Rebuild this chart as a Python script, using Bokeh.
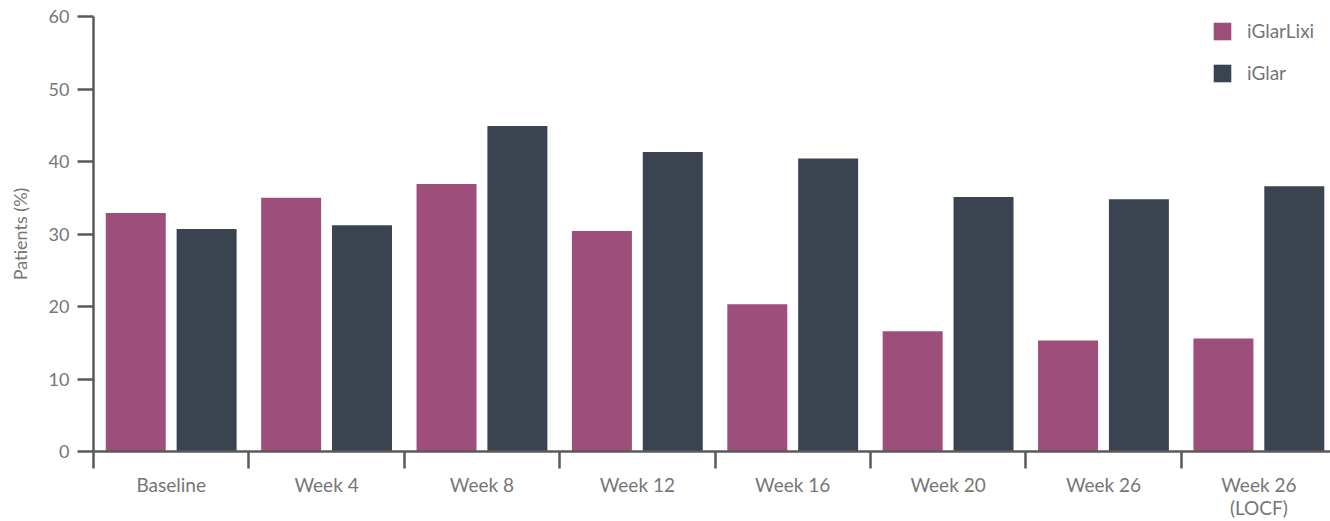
from bokeh.plotting import figure
from bokeh.models import (ColumnDataSource, Range1d, LinearAxis,
                          FixedTicker, Legend)
from bokeh.transform import dodge
from bokeh.embed import file_html
from bokeh.resources import INLINE

categories = ["Baseline", "Week 4", "Week 8", "Week 12", "Week 16", "Week 20",
              "Week 26", "Week 26\n(LOCF)"]
iglarlixi = [32.9, 35.0, 36.9, 30.4, 20.3, 16.6, 15.3, 15.6]
iglar = [30.7, 31.2, 44.9, 41.3, 40.4, 35.1, 34.8, 36.6]
series_names = ["iGlarLixi", "iGlar"]
colors = ["#9e4e7b", "#3a4450"]
y_ticks = [0, 10, 20, 30, 40, 50, 60]

FONT = "Lato"
TEXT_COLOR = "#767676"
AXIS_COLOR = "#5a5a5a"

n = len(categories)
centers = [i + 0.5 for i in range(n)]
source = ColumnDataSource(data=dict(cat=categories, xc=centers, a=iglarlixi, b=iglar))

# the last category is slightly cut by the right edge, as in the reference
p = figure(x_range=Range1d(0, n - 0.039), y_range=Range1d(0, 60),
           width=1330, height=521, output_backend="svg", toolbar_location=None,
           x_axis_location=None, y_axis_location=None)
p.min_border_left = 93
p.min_border_top = 16
p.min_border_right = 0
p.min_border_bottom = 20
p.outline_line_color = None
p.xgrid.visible = False
p.ygrid.visible = False
p.background_fill_color = "white"
p.border_fill_color = "white"

r1 = p.vbar(x=dodge("xc", -0.228), top="a", width=0.386,
            source=source, fill_color=colors[0], line_color=None)
r2 = p.vbar(x=dodge("xc", 0.228), top="b", width=0.386,
            source=source, fill_color=colors[1], line_color=None)

# y axis
yax = LinearAxis(ticker=FixedTicker(ticks=y_ticks, minor_ticks=[]),
                 axis_label="Patients (%)")
yax.axis_line_color = AXIS_COLOR
yax.axis_line_width = 2.5
yax.major_tick_line_color = AXIS_COLOR
yax.major_tick_line_width = 2.5
yax.major_tick_out = 16
yax.major_tick_in = 0
yax.minor_tick_line_color = None
yax.major_label_text_font = FONT
yax.major_label_text_font_size = "18px"
yax.major_label_text_color = TEXT_COLOR
yax.major_label_standoff = 8
yax.axis_label_text_font = FONT
yax.axis_label_text_font_size = "18px"
yax.axis_label_text_font_style = "normal"
yax.axis_label_text_color = TEXT_COLOR
yax.axis_label_standoff = 15
p.add_layout(yax, "left")

# separator axis (ticks at category boundaries)
sep = LinearAxis(ticker=FixedTicker(ticks=list(range(n + 1)), minor_ticks=[]))
sep.axis_line_color = AXIS_COLOR
sep.axis_line_width = 2.5
sep.major_tick_line_color = AXIS_COLOR
sep.major_tick_line_width = 2.5
sep.major_tick_out = 17
sep.major_tick_in = 0
sep.minor_tick_line_color = None
sep.major_label_text_font_size = "0px"
sep.major_label_text_color = None
sep.major_label_standoff = 0
p.add_layout(sep, "below")

# category label axis (labels at category centres)
cax = LinearAxis(ticker=FixedTicker(ticks=centers, minor_ticks=[]),
                 major_label_overrides={c: lab for c, lab in zip(centers, categories)})
cax.axis_line_color = None
cax.major_tick_line_color = None
cax.major_tick_out = 0
cax.major_tick_in = 0
cax.minor_tick_line_color = None
cax.minor_tick_out = 0
cax.major_label_text_font = FONT
cax.major_label_text_font_size = "19px"
cax.major_label_text_color = TEXT_COLOR
cax.major_label_text_line_height = 1.0
cax.major_label_standoff = 4
p.add_layout(cax, "below")

legend = Legend(items=[(series_names[0], [r1]), (series_names[1], [r2])],
                location=(1118, 367))
legend.glyph_width = 22
legend.glyph_height = 22
legend.label_height = 22
legend.label_standoff = 14
legend.spacing = 19
legend.padding = 0
legend.margin = 0
legend.border_line_color = None
legend.background_fill_alpha = 0
legend.label_text_font = FONT
legend.label_text_font_size = "19px"
legend.label_text_color = TEXT_COLOR
p.add_layout(legend, "center")

open("out.html", "w").write(file_html(p, INLINE))
